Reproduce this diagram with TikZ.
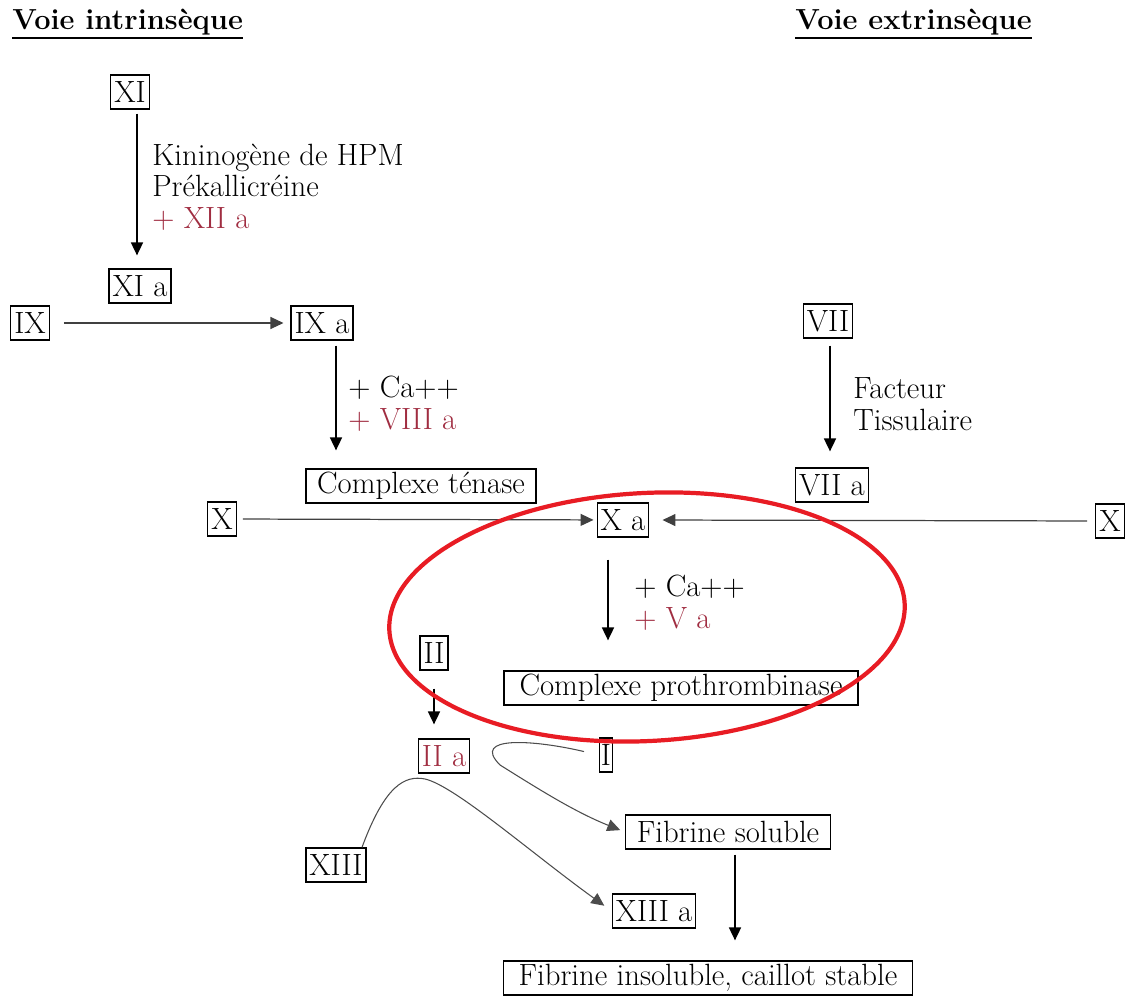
\documentclass[tikz,border=0pt]{standalone}
\usetikzlibrary{positioning, arrows.meta}
\definecolor{factorred}{RGB}{160,45,65}
\definecolor{circlered}{RGB}{232,28,36}

\begin{document}
\begin{tikzpicture}[x=0.02cm, y=-0.02cm,
  every node/.style={font=\fontsize{17.5}{18}\selectfont},
  fac/.style={rectangle, draw=black, line width=0.7pt, inner xsep=2pt, inner ysep=0pt, minimum height=0.68cm},
  lbl/.style={anchor=west, align=left, inner sep=0pt},
  title/.style={anchor=base west, inner sep=0pt, font=\fontsize{16.5}{18}\selectfont\bfseries},
  arrow/.style={-{Triangle[length=2.6mm, width=2.4mm]}, line width=1pt},
  hline/.style={-{Triangle[length=2.6mm, width=2.4mm]}, line width=0.7pt, draw=black!75},
  curve/.style={-{Triangle[length=2.6mm, width=2.4mm]}, line width=0.6pt, draw=black!70}
]
\useasboundingbox (0,0) rectangle (1134,996);

% titres
\node[title] (intr) at (12,30) {Voie intrinsèque};
\node[title] (extr) at (795,30) {Voie extrinsèque};
\draw[line width=1.2pt] ([yshift=-1pt]intr.south west) -- ([yshift=-1pt]intr.south east);
\draw[line width=1.2pt] ([yshift=-1pt]extr.south west) -- ([yshift=-1pt]extr.south east);

% voie intrinseque
\node[fac] (XI) at (130,92) {XI};
\node[fac] (XIa) at (140,286) {XI a};
\node[lbl] (kin) at (152,187) {Kininogène de HPM\\Prékallicréine\\\textcolor{factorred}{+ XII a}};
\node[fac] (IX) at (30,323) {IX};
\node[fac] (IXa) at (322,323) {IX a};
\node[lbl] (ca1) at (348,404) {+ Ca++\\\textcolor{factorred}{+ VIII a}};
\node[fac, minimum width=4.6cm] (ten) at (421,486) {Complexe ténase};

% voie extrinseque
\node[fac] (VII) at (828,321) {VII};
\node[lbl] (ft) at (853,404) {Facteur\\Tissulaire};
\node[fac] (VIIa) at (832,485) {VII a};

% voie commune
\node[fac] (Xl) at (222,519) {X};
\node[fac] (Xa) at (623,520) {X a};
\node[fac] (Xr) at (1110,521) {X};
\node[lbl] (ca2) at (634,603) {+ Ca++\\\textcolor{factorred}{+ V a}};
\node[fac, minimum width=7.08cm] (proth) at (681,688) {Complexe prothrombinase};
\node[fac] (II) at (434,653) {II};
\node[fac, text=factorred] (IIa) at (444,756) {II a};
\node[fac, inner xsep=1pt] (I) at (606,755) {I};
\node[fac, minimum width=4.1cm] (fs) at (728,832) {Fibrine soluble};
\node[fac] (XIII) at (336,865) {XIII};
\node[fac] (XIIIa) at (654,911) {XIII a};
\node[fac, minimum width=8.18cm] (fi) at (708,978) {Fibrine insoluble, caillot stable};

\draw[arrow, shorten <=0.08cm, shorten >=0.26cm] ([xshift=0.14cm]XI.south) -- ([xshift=0.14cm]XI.south |- XIa.north);
\draw[hline, shorten <=0.28cm, shorten >=0.14cm] (IX) -- (IXa);
\draw[arrow, shorten <=0.1cm, shorten >=0.36cm] ([xshift=0.28cm]IXa.south) -- ([xshift=0.28cm]IXa.south |- ten.north);
\draw[arrow, shorten <=0.14cm, shorten >=0.32cm] ([xshift=0.04cm]VII.south) -- ([xshift=0.04cm]VII.south |- VIIa.north);
\draw[hline, shorten <=0.12cm, shorten >=0.06cm] (Xl) -- (Xa);
\draw[hline, shorten <=0.16cm, shorten >=0.26cm] (Xr.west) -- (Xa.east);
\draw[arrow, shorten <=0.44cm, shorten >=0.6cm] ([xshift=-0.3cm]Xa.south) -- ([xshift=-0.3cm]Xa.south |- proth.north);
\draw[arrow, shorten <=0.36cm, shorten >=0.28cm] (II) -- (IIa.north -| II);
\draw[arrow, shorten <=0.1cm, shorten >=0.4cm] ([xshift=0.14cm]fs.south) -- ([xshift=0.14cm]fs.south |- fi.north);

% thrombine
\draw[curve, shorten <=0.3cm, shorten >=0.1cm] (I.west) .. controls (535,740) and (470,735) .. (500,765) .. controls (540,790) and (575,812) .. (fs.west);
\draw[curve, shorten >=0.18cm] ([xshift=0.52cm]XIII.north) .. controls (385,785) and (405,775) .. (425,779) .. controls (455,786) and (530,852) .. (XIIIa.west);

% cercle
\draw[circlered, line width=2.4pt, rotate around={3:(647,617)}] (647,617) ellipse [x radius=258, y radius=124];
\end{tikzpicture}
\end{document}
